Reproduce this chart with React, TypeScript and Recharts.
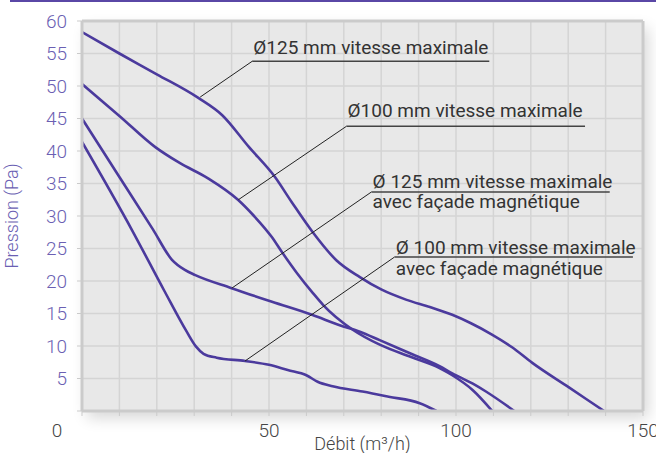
import React from "react";
import {
  LineChart,
  Line,
  XAxis,
  YAxis,
  CartesianGrid,
  ReferenceLine,
  ReferenceDot,
} from "recharts";

// courbes débit (m3/h) / pression (Pa)
const d125Max = [
  { x: 0, y: 58.3 }, { x: 10, y: 55 }, { x: 20, y: 51.8 }, { x: 31, y: 48.2 },
  { x: 37.5, y: 45.5 }, { x: 44.5, y: 40.7 }, { x: 51.6, y: 36 }, { x: 56, y: 32.2 },
  { x: 61.7, y: 27.5 }, { x: 68, y: 23.2 }, { x: 74.3, y: 20.6 }, { x: 80, y: 18.7 },
  { x: 86.8, y: 17.1 }, { x: 93, y: 16 }, { x: 99, y: 14.8 }, { x: 104, y: 13.5 },
  { x: 109.5, y: 11.8 }, { x: 115, y: 9.8 }, { x: 120.4, y: 7.4 }, { x: 130, y: 3.7 },
  { x: 139.6, y: 0 },
];
const d100Max = [
  { x: 0, y: 50.3 }, { x: 10, y: 45.4 }, { x: 19.6, y: 40.6 }, { x: 26, y: 38.2 },
  { x: 33.7, y: 35.8 }, { x: 41.7, y: 32.5 }, { x: 46, y: 30 }, { x: 50.7, y: 26.8 },
  { x: 53.4, y: 24.5 }, { x: 57.5, y: 21.2 }, { x: 61.8, y: 18.1 }, { x: 64.5, y: 16.3 },
  { x: 72.4, y: 12.5 }, { x: 79.6, y: 10.2 }, { x: 88, y: 8.3 }, { x: 95.6, y: 6.6 },
  { x: 99, y: 5.5 }, { x: 104.5, y: 3.2 }, { x: 109.7, y: 0 },
];
const d125Facade = [
  { x: 0, y: 45 }, { x: 10, y: 36 }, { x: 19, y: 27.9 }, { x: 24, y: 23.3 },
  { x: 27.5, y: 21.7 }, { x: 30.3, y: 20.9 }, { x: 40, y: 18.9 }, { x: 50.8, y: 16.8 },
  { x: 61.5, y: 14.8 }, { x: 68.9, y: 13.2 }, { x: 74.3, y: 12.2 }, { x: 79.6, y: 10.9 },
  { x: 88, y: 8.8 }, { x: 95.6, y: 6.9 }, { x: 99, y: 5.8 }, { x: 104.5, y: 4.2 },
  { x: 108, y: 3 }, { x: 115.6, y: 0 },
];
const d100Facade = [
  { x: 0, y: 41.4 }, { x: 13.4, y: 27.8 }, { x: 22, y: 18.5 }, { x: 28, y: 12.2 },
  { x: 30.5, y: 9.9 }, { x: 32.5, y: 8.8 }, { x: 36, y: 8.2 }, { x: 43.6, y: 7.7 },
  { x: 50, y: 7.1 }, { x: 55, y: 6.3 }, { x: 60, y: 5.5 }, { x: 63, y: 4.5 },
  { x: 67, y: 3.8 }, { x: 75, y: 3 }, { x: 82, y: 2.2 }, { x: 90.3, y: 1.2 },
  { x: 94.8, y: 0 },
];

const xTicks = [0, 10, 20, 30, 40, 50, 60, 70, 80, 90, 100, 110, 120, 130, 140, 150];
const xLabels = [0, 50, 100, 150];
const yTicks = [0, 5, 10, 15, 20, 25, 30, 35, 40, 45, 50, 55, 60];

// annotations : point sur la courbe, coude, fin du soulignement, texte
const callouts = [
  { lines: ["Ø125 mm vitesse maximale"], from: { x: 31.6, y: 48.3 }, elbow: { x: 45.5, y: 53.8 }, end: 108.9, textY: 54.9 },
  { lines: ["Ø100 mm vitesse maximale"], from: { x: 41.8, y: 32.5 }, elbow: { x: 70.7, y: 43.8 }, end: 134.5, textY: 45.3 },
  { lines: ["Ø 125 mm vitesse maximale", "avec façade magnétique"], from: { x: 40.05, y: 18.9 }, elbow: { x: 77.4, y: 33.7 }, end: 141.1, textY: 34.35 },
  { lines: ["Ø 100 mm vitesse maximale", "avec façade magnétique"], from: { x: 43.6, y: 7.7 }, elbow: { x: 83.6, y: 23.7 }, end: 147.3, textY: 24.1 },
];

const series = [d125Max, d100Max, d125Facade, d100Facade];

const PURPLE = "#4b3a9d";
const AXIS_PURPLE = "#6b5fb3";
const BORDER = "#cbcbcb";
const W = 656;
const H = 453;
const margin = { top: 21, right: 13, bottom: 0, left: 0 };
const Y_WIDTH = 82;
const X_HEIGHT = 42;

const XTick = (props: any) => {
  const { x, y, payload } = props;
  const v = payload.value;
  if (!xLabels.includes(v)) return <g />;
  const dx = v === 0 ? -25 : 0;
  return (
    <text x={x + dx} y={y + 21} textAnchor="middle" fontSize={19} fontWeight={300} fill="#454545">
      {v}
    </text>
  );
};

const calloutText = (lines: string[]) => (p: any) => (
  <text x={p.cx} y={p.cy} fontSize={19} fill="#333" fontFamily="Roboto">
    {lines.map((l, i) => (
      <tspan key={i} x={p.cx} dy={i === 0 ? 0 : 20.5}>
        {l}
      </tspan>
    ))}
  </text>
);

export default function App() {
  return (
    <div style={{ position: "relative", width: W, height: H, fontFamily: "Roboto", overflow: "hidden" }}>
      <style>{"body{margin:0}"}</style>
      <div style={{ position: "absolute", left: 10, top: 0, width: W - 10, height: 2, background: "#5a47a6" }} />
      <div
        style={{
          position: "absolute",
          left: Y_WIDTH,
          top: margin.top,
          width: W - Y_WIDTH - margin.right,
          height: H - margin.top - X_HEIGHT,
          boxShadow: "5px 7px 14px rgba(0,0,0,0.16)",
        }}
      />
      <LineChart
        width={W}
        height={H}
        margin={margin}
        style={{ position: "absolute", left: 0, top: 0 }}
      >
        <CartesianGrid fill="#e8e8e8" stroke="#d4d4d4" strokeWidth={1.5} />
        <XAxis
          type="number"
          dataKey="x"
          domain={[0, 150]}
          ticks={xTicks}
          interval={0}
          allowDataOverflow
          height={X_HEIGHT}
          axisLine={{ stroke: BORDER, strokeWidth: 3 }}
          tickLine={{ stroke: BORDER }}
          tickSize={5}
          tickMargin={0}
          tick={<XTick />}
          label={{ value: "Débit (m³/h)", position: "insideBottom", offset: 3, fill: "#454545", fontSize: 18, fontWeight: 300 }}
        />
        <YAxis
          type="number"
          domain={[0, 60]}
          ticks={yTicks}
          interval={0}
          allowDataOverflow
          width={Y_WIDTH}
          axisLine={{ stroke: BORDER, strokeWidth: 3 }}
          tickLine={{ stroke: BORDER }}
          tickSize={5}
          tickMargin={10}
          tick={{ fill: AXIS_PURPLE, fontSize: 19, fontWeight: 300 }}
          tickFormatter={(v: number) => (v === 0 ? "" : String(v))}
          label={{
            value: "Pression (Pa)",
            angle: -90,
            position: "insideLeft",
            offset: 12,
            fill: AXIS_PURPLE,
            fontSize: 18,
            fontWeight: 300,
            style: { textAnchor: "middle" },
          }}
        />
        <ReferenceLine y={60} stroke={BORDER} strokeWidth={3} />
        <ReferenceLine x={150} stroke={BORDER} strokeWidth={3} />
        {series.map((s, i) => (
          <Line
            key={i}
            data={s}
            dataKey="y"
            type="monotone"
            stroke={PURPLE}
            strokeWidth={2.6}
            dot={false}
            activeDot={false}
            isAnimationActive={false}
          />
        ))}
        {callouts.map((c, i) => (
          <ReferenceLine
            key={"l" + i}
            segment={[c.from, c.elbow]}
            stroke="#222"
            strokeWidth={1}
          />
        ))}
        {callouts.map((c, i) => (
          <ReferenceLine
            key={"u" + i}
            segment={[c.elbow, { x: c.end, y: c.elbow.y }]}
            stroke="#444"
            strokeWidth={1.4}
          />
        ))}
        {callouts.map((c, i) => (
          <ReferenceDot
            key={"t" + i}
            x={c.elbow.x + 0.3}
            y={c.textY}
            r={0}
            shape={calloutText(c.lines)}
          />
        ))}
      </LineChart>
    </div>
  );
}
